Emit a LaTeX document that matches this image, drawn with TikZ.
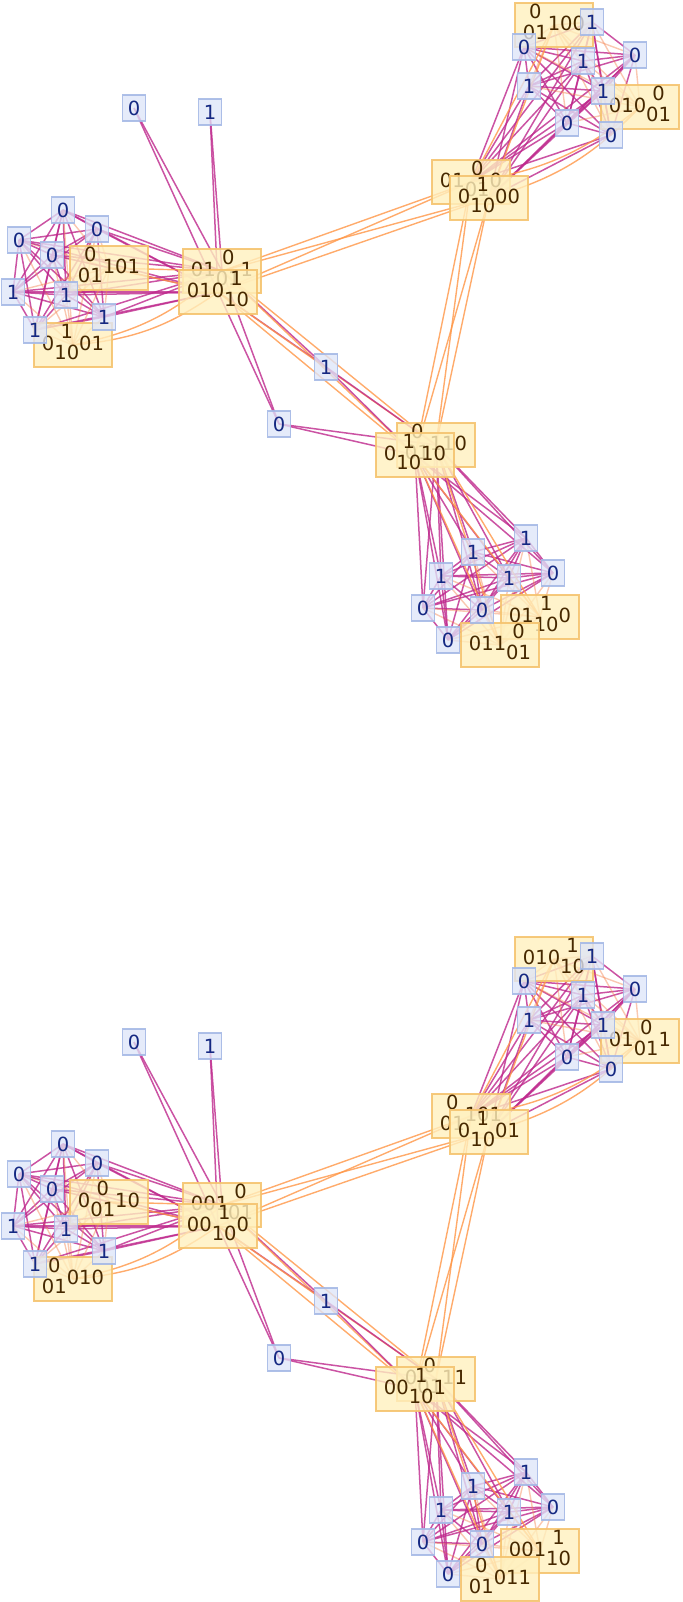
\documentclass[tikz,border=0pt]{standalone}
\usepackage{fontspec}
\setmainfont{DejaVu Sans}
\pgfdeclarelayer{edgelayer}
\pgfsetlayers{edgelayer,main}
\definecolor{pcol}{RGB}{190,40,140}
\definecolor{ocol}{RGB}{255,150,70}
\definecolor{bfill}{RGB}{222,229,248}
\definecolor{bdraw}{RGB}{165,185,230}
\definecolor{btext}{RGB}{20,40,130}
\definecolor{ofill}{RGB}{255,240,190}
\definecolor{odraw}{RGB}{245,195,110}
\definecolor{otext}{RGB}{70,40,0}
\newcommand\fr[2]{\begin{tabular}{@{}c@{}}#1\\#2\end{tabular}}
\tikzset{
  pe/.style={draw=pcol,line width=1.5pt,opacity=0.8},
  oe/.style={draw=ocol,line width=1.4pt,opacity=0.8},
  le/.style={draw=ocol!85!pcol,line width=1.4pt,opacity=0.45},
  bn/.style={draw=bdraw,draw opacity=0.9,line width=1.5pt,fill=bfill,fill opacity=0.78,text opacity=1,
    text=btext,minimum width=23pt,minimum height=26pt,inner sep=0pt,
    font=\fontsize{19.5}{21}\selectfont},
  on/.style={draw=odraw,draw opacity=0.9,line width=1.5pt,fill=ofill,fill opacity=0.8,
    text opacity=1,text=otext,minimum height=44pt,inner xsep=8pt,inner ysep=1pt,
    font=\fontsize{19.5}{21}\selectfont}
}
\newcommand\copynodes[1]{%
\node[on] (#1LO1) at (109,268) {\tLOa};
\node[on] (#1LO2) at (73,345) {\tLOb};
\node[on] (#1C1) at (222,271) {\tCa};
\node[on] (#1C2) at (218,292) {\tCb};
\node[on] (#1RO1) at (554,25) {\tROa};
\node[on] (#1RO2) at (640,107) {\tROb};
\node[on] (#1RH1) at (471,182) {\tRHa};
\node[on] (#1RH2) at (489,198) {\tRHb};
\node[on] (#1BH1) at (436,445) {\tBHa};
\node[on] (#1BH2) at (415,455) {\tBHb};
\node[on] (#1BO1) at (540,617) {\tBOa};
\node[on] (#1BO2) at (500,645) {\tBOb};
\node[bn] (#1L1) at (63,210) {0};
\node[bn] (#1L2) at (19,240) {0};
\node[bn] (#1L3) at (52,255) {0};
\node[bn] (#1L4) at (97,229) {0};
\node[bn] (#1L5) at (13,292) {1};
\node[bn] (#1L6) at (66,295) {1};
\node[bn] (#1L7) at (104,317) {1};
\node[bn] (#1L8) at (35,330) {1};
\node[bn] (#1S1) at (134,108) {0};
\node[bn] (#1S2) at (210,112) {1};
\node[bn] (#1S3) at (326,367) {1};
\node[bn] (#1S4) at (279,424) {0};
\node[bn] (#1R1) at (592,22) {1};
\node[bn] (#1R2) at (524,47) {0};
\node[bn] (#1R3) at (583,61) {1};
\node[bn] (#1R4) at (635,55) {0};
\node[bn] (#1R5) at (529,86) {1};
\node[bn] (#1R6) at (603,91) {1};
\node[bn] (#1R7) at (567,123) {0};
\node[bn] (#1R8) at (611,135) {0};
\node[bn] (#1B1) at (526,538) {1};
\node[bn] (#1B2) at (473,552) {1};
\node[bn] (#1B3) at (441,576) {1};
\node[bn] (#1B4) at (509,578) {1};
\node[bn] (#1B5) at (553,573) {0};
\node[bn] (#1B6) at (423,608) {0};
\node[bn] (#1B7) at (482,610) {0};
\node[bn] (#1B8) at (448,640) {0};
}
\newcommand\copyedges[1]{%
\foreach \cl in {L,R,B}{%
  \foreach \ii in {1,...,8}{%
    \foreach \jj in {1,...,8}{%
      \ifnum\ii<\jj \draw[pe] (#1\cl\ii.center) -- (#1\cl\jj.center);\fi
    }}}
\foreach \ii in {1,...,8}{%
  \draw[le] (#1L\ii.center) -- (#1LO1.center);
  \draw[le] (#1L\ii.center) -- (#1LO2.center);
  \draw[pe] (#1L\ii.center) -- (#1C1.center);
  \draw[pe] (#1L\ii.center) -- (#1C2.center);
  \draw[le] (#1R\ii.center) -- (#1RO1.center);
  \draw[le] (#1R\ii.center) -- (#1RO2.center);
  \draw[pe] (#1R\ii.center) -- (#1RH1.center);
  \draw[pe] (#1R\ii.center) -- (#1RH2.center);
  \draw[le] (#1B\ii.center) -- (#1BO1.center);
  \draw[le] (#1B\ii.center) -- (#1BO2.center);
  \draw[pe] (#1B\ii.center) -- (#1BH1.center);
  \draw[pe] (#1B\ii.center) -- (#1BH2.center);
}
\foreach \hb in {C1,C2}{%
  \draw[pe] (#1S1.center) -- (#1\hb.center);
  \draw[pe] (#1S2.center) -- (#1\hb.center);
  \draw[pe] (#1S3.center) -- (#1\hb.center);
  \draw[pe] (#1S4.center) -- (#1\hb.center);
  \draw[oe] (#1LO1.center) -- (#1\hb.center);
  \draw[oe] (#1LO2.center) to[bend right=15] (#1\hb.center);
  \draw[oe] (#1\hb.center) -- (#1RH1.center);
  \draw[oe] (#1\hb.center) -- (#1RH2.center);
  \draw[oe] (#1\hb.center) -- (#1BH1.center);
  \draw[oe] (#1\hb.center) -- (#1BH2.center);
}
\foreach \hb in {BH1,BH2}{%
  \draw[pe] (#1S3.center) -- (#1\hb.center);
  \draw[pe] (#1S4.center) -- (#1\hb.center);
  \draw[oe] (#1RH1.center) -- (#1\hb.center);
  \draw[oe] (#1RH2.center) -- (#1\hb.center);
  \draw[oe] (#1BO1.center) -- (#1\hb.center);
  \draw[oe] (#1BO2.center) -- (#1\hb.center);
}
\foreach \hb in {RH1,RH2}{%
  \draw[oe] (#1RO1.center) -- (#1\hb.center);
  \draw[oe] (#1RO2.center) to[bend left=15] (#1\hb.center);
}
\draw[le] (#1LO1.center) -- (#1LO2.center);
\draw[le] (#1RO1.center) -- (#1RO2.center);
\draw[le] (#1BO1.center) -- (#1BO2.center);
}
\begin{document}
\begin{tikzpicture}[x=1pt,y=-1pt]
\useasboundingbox (0,0) rectangle (682,1602);
% top copy
\def\tLOa{\fr{0}{01}101}
\def\tLOb{0\fr{1}{10}01}
\def\tCa{01\fr{0}{01}1}
\def\tCb{010\fr{1}{10}}
\def\tROa{\fr{0}{01}100}
\def\tROb{010\fr{0}{01}}
\def\tRHa{01\fr{0}{01}0}
\def\tRHb{0\fr{1}{10}00}
\def\tBHa{\fr{0}{01}110}
\def\tBHb{0\fr{1}{10}10}
\def\tBOa{01\fr{1}{10}0}
\def\tBOb{011\fr{0}{01}}
\copynodes{t}
% bottom copy
\begin{scope}[shift={(0,934)}]
\def\tLOa{0\fr{0}{01}10}
\def\tLOb{\fr{0}{01}010}
\def\tCa{001\fr{0}{01}}
\def\tCb{00\fr{1}{10}0}
\def\tROa{010\fr{1}{10}}
\def\tROb{01\fr{0}{01}1}
\def\tRHa{\fr{0}{01}101}
\def\tRHb{0\fr{1}{10}01}
\def\tBHa{0\fr{0}{01}11}
\def\tBHb{00\fr{1}{10}1}
\def\tBOa{001\fr{1}{10}}
\def\tBOb{\fr{0}{01}011}
\copynodes{b}
\end{scope}
\begin{pgfonlayer}{edgelayer}
\copyedges{t}
\copyedges{b}
\end{pgfonlayer}
\end{tikzpicture}
\end{document}
